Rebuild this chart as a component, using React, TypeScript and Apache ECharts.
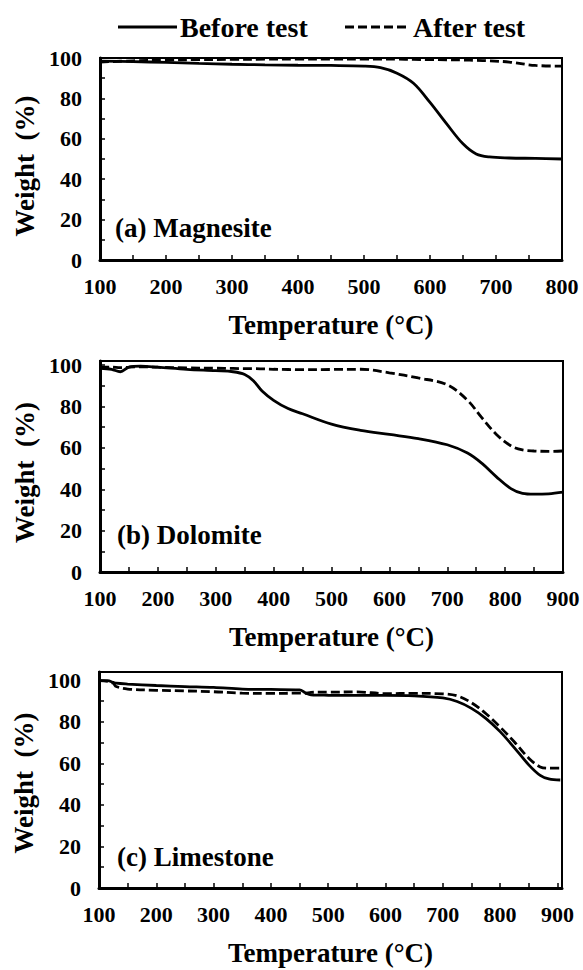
import React, { useEffect, useRef } from "react";
import * as echarts from "echarts";

// ---------- data ----------
const legendNames = ["Before test", "After test"];
const panelLabels = ["(a) Magnesite", "(b) Dolomite", "(c) Limestone"];
const yTickValues = [0, 20, 40, 60, 80, 100];

// (a) Magnesite
const tempA = [100, 150, 200, 250, 300, 350, 400, 450, 500, 525, 550, 575, 600, 625, 650, 670, 690, 720, 760, 800];
const beforeA = [98.5, 98.2, 97.8, 97.3, 96.9, 96.6, 96.4, 96.3, 96.0, 95.2, 92.5, 87.5, 78.0, 67.5, 57.5, 52.5, 51.0, 50.5, 50.3, 50.0];
const afterA = [98.0, 98.6, 99.0, 99.2, 99.3, 99.4, 99.4, 99.4, 99.4, 99.4, 99.4, 99.3, 99.2, 99.1, 99.0, 98.8, 98.6, 98.0, 96.3, 96.0];

// (b) Dolomite
const tempB = [100, 120, 135, 150, 170, 200, 250, 300, 330, 350, 365, 380, 400, 425, 450, 500, 550, 600, 650, 700, 735, 760, 785, 810, 830, 850, 875, 900];
const beforeB = [98.5, 98.0, 96.8, 99.0, 99.5, 99.0, 98.0, 97.3, 96.8, 95.5, 92.5, 87.5, 83.0, 79.0, 76.5, 71.5, 68.5, 66.5, 64.5, 61.5, 57.5, 52.5, 46.0, 40.3, 38.0, 37.6, 37.8, 38.6];
const afterB = [99.0, 99.0, 98.8, 99.0, 99.2, 99.0, 98.7, 98.5, 98.4, 98.3, 98.3, 98.2, 98.0, 97.9, 97.8, 97.9, 98.0, 96.3, 93.8, 90.5, 83.0, 74.5, 66.5, 61.0, 59.0, 58.5, 58.3, 58.5];

// (c) Limestone
const tempC = [100, 115, 125, 130, 150, 200, 250, 300, 350, 400, 450, 460, 470, 500, 550, 600, 650, 700, 725, 750, 775, 800, 825, 850, 870, 885, 905];
const beforeC = [99.8, 99.8, 99.0, 98.6, 98.2, 97.5, 97.0, 96.6, 95.8, 95.6, 95.4, 94.0, 93.0, 92.8, 92.7, 92.7, 92.5, 91.5, 89.8, 86.5, 81.7, 75.3, 67.5, 59.3, 54.2, 52.5, 52.0];
const afterC = [99.8, 99.5, 98.5, 97.0, 95.8, 95.2, 94.9, 94.5, 93.8, 93.7, 93.8, 93.7, 94.2, 94.3, 94.4, 93.6, 93.7, 93.5, 92.5, 89.2, 84.0, 77.5, 70.3, 62.5, 58.3, 57.7, 57.7];

const xRanges = [
  [100, 800],
  [100, 900],
  [100, 908],
];
const yMaxes = [100, 102, 104];

// ---------- layout ----------
const FONT = '"Liberation Serif", "Times New Roman", serif';
const grids = [
  { left: 100, top: 58, width: 462, height: 202 },
  { left: 100, top: 361, width: 463, height: 211 },
  { left: 99, top: 672, width: 463, height: 216 },
];
const labelPos = [
  { x: 115, y: 228 },
  { x: 117, y: 535 },
  { x: 117, y: 857 },
];
const yNamePadRight = [14, 12, 6];
const legendY = 27;
const legendItems = [
  { x0: 118, x1: 177, tx: 180, dash: null as number[] | null },
  { x0: 345, x1: 410, tx: 413, dash: [9, 4] },
];

const zip = (xs: number[], ys: number[]) => xs.map((x, i) => [x, ys[i]]);

export default function App() {
  const ref = useRef<HTMLDivElement>(null);
  useEffect(() => {
    if (!ref.current) return;
    const chart = echarts.init(ref.current, undefined, { renderer: "svg" });
    const temps = [tempA, tempB, tempC];
    const befores = [beforeA, beforeB, beforeC];
    const afters = [afterA, afterB, afterC];

    const xAxis = grids.map((_, i) => ({
      type: "value",
      gridIndex: i,
      min: xRanges[i][0],
      max: xRanges[i][1],
      interval: 100,
      name: "Temperature (°C)",
      nameLocation: "middle",
      nameGap: 51,
      nameTextStyle: { fontFamily: FONT, fontWeight: "bold", fontSize: 27, color: "#000" },
      axisLine: { show: true, onZero: false, lineStyle: { color: "#000", width: 3 } },
      axisTick: { show: true, inside: true, length: 5, lineStyle: { color: "#000", width: 1.5 } },
      minorTick: { show: true, splitNumber: 2, length: 5, lineStyle: { color: "#000", width: 1.5 } },
      axisLabel: {
        margin: 15,
        fontFamily: FONT,
        fontWeight: "bold",
        fontSize: 22,
        color: "#000",
        showMaxLabel: xRanges[i][1] % 100 === 0,
      },
      splitLine: { show: false },
    }));

    const yAxis = grids.map((_, i) => ({
      type: "value",
      gridIndex: i,
      min: 0,
      max: yMaxes[i],
      interval: 20,
      name: "Weight  (%)",
      nameLocation: "middle",
      nameGap: 58,
      nameTextStyle: {
        fontFamily: FONT,
        fontWeight: "bold",
        fontSize: 27,
        color: "#000",
        padding: [0, yNamePadRight[i], 0, 0],
      },
      axisLine: { show: true, onZero: false, lineStyle: { color: "#000", width: 3 } },
      axisTick: { show: true, inside: true, length: 5, lineStyle: { color: "#000", width: 1.5 } },
      minorTick: { show: true, splitNumber: 2, length: 5, lineStyle: { color: "#000", width: 1.5 } },
      axisLabel: {
        margin: 18,
        fontFamily: FONT,
        fontWeight: "bold",
        fontSize: 22,
        color: "#000",
        showMaxLabel: yTickValues.includes(yMaxes[i]),
      },
      splitLine: { show: false },
    }));

    const series: any[] = [];
    grids.forEach((_, i) => {
      series.push({
        name: legendNames[0],
        type: "line",
        xAxisIndex: i,
        yAxisIndex: i,
        data: zip(temps[i], befores[i]),
        smooth: 0.35,
        symbol: "none",
        showSymbol: false,
        lineStyle: { color: "#000", width: 2.8, type: "solid" },
        itemStyle: { color: "#000" },
      });
      series.push({
        name: legendNames[1],
        type: "line",
        xAxisIndex: i,
        yAxisIndex: i,
        data: zip(temps[i], afters[i]),
        smooth: 0.35,
        symbol: "none",
        showSymbol: false,
        lineStyle: { color: "#000", width: 2.8, type: [9, 4] },
        itemStyle: { color: "#000" },
      });
    });

    const legendGraphics: any[] = [];
    legendItems.forEach((it, i) => {
      legendGraphics.push({
        type: "line",
        shape: { x1: it.x0, y1: legendY, x2: it.x1, y2: legendY },
        style: { stroke: "#000", lineWidth: 3, lineDash: it.dash || undefined },
      });
      legendGraphics.push({
        type: "text",
        x: it.tx,
        y: legendY,
        style: {
          text: legendNames[i],
          font: `bold 28px ${FONT}`,
          fill: "#000",
          verticalAlign: "middle",
        },
      });
    });

    chart.setOption({
      animation: false,
      backgroundColor: "#fff",
      grid: grids.map((g) => ({
        ...g,
        show: true,
        borderColor: "#000",
        borderWidth: 2,
        backgroundColor: "transparent",
      })),
      xAxis,
      yAxis,
      series,
      graphic: [
        ...legendGraphics,
        ...panelLabels.map((t, i) => ({
          type: "text",
          x: labelPos[i].x,
          y: labelPos[i].y,
          style: {
            text: t,
            font: `bold 27px ${FONT}`,
            fill: "#000",
            verticalAlign: "middle",
          },
        })),
      ],
    });
    return () => chart.dispose();
  }, []);
  return (
    <div
      ref={ref}
      style={{ position: "absolute", left: 0, top: 0, width: 583, height: 970, background: "#fff" }}
    />
  );
}
